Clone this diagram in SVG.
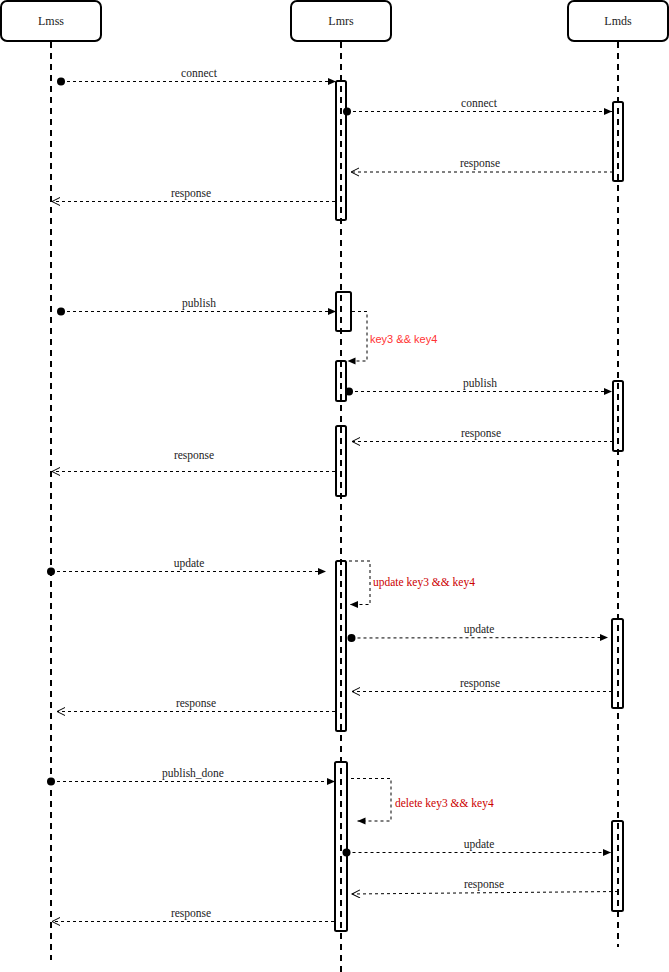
<svg xmlns="http://www.w3.org/2000/svg" width="669" height="972" viewBox="0 0 669 972">
<style>
.hdr{fill:#fff;stroke:#000;stroke-width:2}
.life{stroke:#000;stroke-width:2;stroke-dasharray:6 5;fill:none}
.act{fill:none;stroke:#000;stroke-width:2}
.msg{stroke:#000;stroke-width:1;stroke-dasharray:3 3;fill:none}
.t{font-family:"Liberation Serif",serif;font-size:11.5px;fill:#222;text-anchor:middle}
.h{font-family:"Liberation Serif",serif;font-size:12px;fill:#222;text-anchor:middle}
.r1{font-family:"Liberation Sans",Arial,sans-serif;font-size:11px;fill:#ff3333}
.r2{font-family:"Liberation Serif",serif;font-size:11.5px;fill:#cc0000}
</style>
<defs>
<marker id="fa" markerUnits="userSpaceOnUse" markerWidth="9" markerHeight="8" refX="8" refY="3.5" orient="auto"><path d="M0,0 L8,3.5 L0,7 z" fill="#000"/></marker>
<marker id="oa" markerUnits="userSpaceOnUse" markerWidth="10" markerHeight="10" refX="8.5" refY="4.5" orient="auto"><path d="M0.5,0.5 L8.5,4.5 L0.5,8.5" fill="none" stroke="#000" stroke-width="1"/></marker>
<marker id="dot" markerUnits="userSpaceOnUse" markerWidth="10" markerHeight="10" refX="5" refY="5" orient="auto"><circle cx="5" cy="5" r="4" fill="#000"/></marker>
</defs>

<g id="Lmss">
<line class="life" x1="51" y1="42" x2="51" y2="960"/>
<rect class="hdr" x="1" y="1" width="100" height="40" rx="6"/>
<text class="h" x="51" y="25">Lmss</text>
</g>
<g id="Lmrs">
<line class="life" x1="341" y1="42" x2="341" y2="972"/>
<rect class="hdr" x="291" y="1" width="100" height="40" rx="6"/>
<text class="h" x="341" y="25">Lmrs</text>
<rect class="act" x="336" y="81" width="10" height="139" rx="1.5"/>
<rect class="act" x="336" y="292" width="15" height="39" rx="1.5"/>
<rect class="act" x="336" y="361" width="10" height="40" rx="1.5"/>
<rect class="act" x="336" y="426" width="10" height="70" rx="1.5"/>
<rect class="act" x="336" y="561" width="10" height="170" rx="1.5"/>
<rect class="act" x="335" y="762" width="12" height="169" rx="1.5"/>
</g>
<g id="Lmds">
<line class="life" x1="618" y1="42" x2="618" y2="947"/>
<rect class="hdr" x="568" y="1" width="100" height="40" rx="6"/>
<text class="h" x="618" y="25">Lmds</text>
<rect class="act" x="613" y="102" width="10" height="79" rx="1.5"/>
<rect class="act" x="613" y="381" width="10" height="70" rx="1.5"/>
<rect class="act" x="612" y="619" width="11" height="89" rx="1.5"/>
<rect class="act" x="612" y="821" width="11" height="90" rx="1.5"/>
</g>

<g id="connectors">
<!-- block 1 -->
<line class="msg" x1="61" y1="81.5" x2="336" y2="81.5" marker-start="url(#dot)" marker-end="url(#fa)"/>
<text class="t" x="199" y="77">connect</text>
<line class="msg" x1="347" y1="111.5" x2="612" y2="111.5" marker-start="url(#dot)" marker-end="url(#fa)"/>
<text class="t" x="479" y="107">connect</text>
<line class="msg" x1="613" y1="172" x2="351" y2="172" marker-end="url(#oa)"/>
<text class="t" x="480" y="167">response</text>
<line class="msg" x1="335" y1="201.5" x2="52" y2="201.5" marker-end="url(#oa)"/>
<text class="t" x="191" y="197">response</text>

<!-- block 2 -->
<line class="msg" x1="61" y1="311.5" x2="336" y2="311.5" marker-start="url(#dot)" marker-end="url(#fa)"/>
<text class="t" x="199" y="307">publish</text>
<polyline class="msg" points="352,311.5 367,311.5 367,361 347.5,361" marker-end="url(#fa)"/>
<text class="r1" x="370" y="343">key3 &amp;&amp; key4</text>
<line class="msg" x1="349" y1="391.5" x2="612" y2="391.5" marker-start="url(#dot)" marker-end="url(#fa)"/>
<text class="t" x="480" y="387">publish</text>
<line class="msg" x1="613" y1="441.5" x2="352" y2="441.5" marker-end="url(#oa)"/>
<text class="t" x="481" y="437">response</text>
<line class="msg" x1="335" y1="471.5" x2="52" y2="471.5" marker-end="url(#oa)"/>
<text class="t" x="194" y="459">response</text>

<!-- block 3 -->
<line class="msg" x1="51" y1="571.5" x2="326" y2="571.5" marker-start="url(#dot)" marker-end="url(#fa)"/>
<text class="t" x="189" y="567">update</text>
<polyline class="msg" points="343,561 370,561 370,604.5 350,604.5" marker-end="url(#fa)"/>
<text class="r2" x="373" y="586">update key3 &amp;&amp; key4</text>
<line class="msg" x1="351.5" y1="638" x2="608" y2="637.5" marker-start="url(#dot)" marker-end="url(#fa)"/>
<text class="t" x="479" y="633">update</text>
<line class="msg" x1="612" y1="691.5" x2="352" y2="691.5" marker-end="url(#oa)"/>
<text class="t" x="480" y="687">response</text>
<line class="msg" x1="335" y1="711.5" x2="57" y2="711.5" marker-end="url(#oa)"/>
<text class="t" x="196" y="707">response</text>

<!-- block 4 -->
<line class="msg" x1="51" y1="781.5" x2="335" y2="781.5" marker-start="url(#dot)" marker-end="url(#fa)"/>
<text class="t" x="193" y="777">publish_done</text>
<polyline class="msg" points="351,778.5 391,778.5 391,821 357.5,821" marker-end="url(#fa)"/>
<text class="r2" x="395" y="807">delete key3 &amp;&amp; key4</text>
<line class="msg" x1="346.5" y1="852.5" x2="611" y2="852.5" marker-start="url(#dot)" marker-end="url(#fa)"/>
<text class="t" x="479" y="848">update</text>
<line class="msg" x1="618" y1="891.5" x2="352" y2="894" marker-end="url(#oa)"/>
<text class="t" x="484" y="888">response</text>
<line class="msg" x1="334" y1="921.5" x2="52" y2="921.5" marker-end="url(#oa)"/>
<text class="t" x="191" y="917">response</text>
</g>
</svg>
